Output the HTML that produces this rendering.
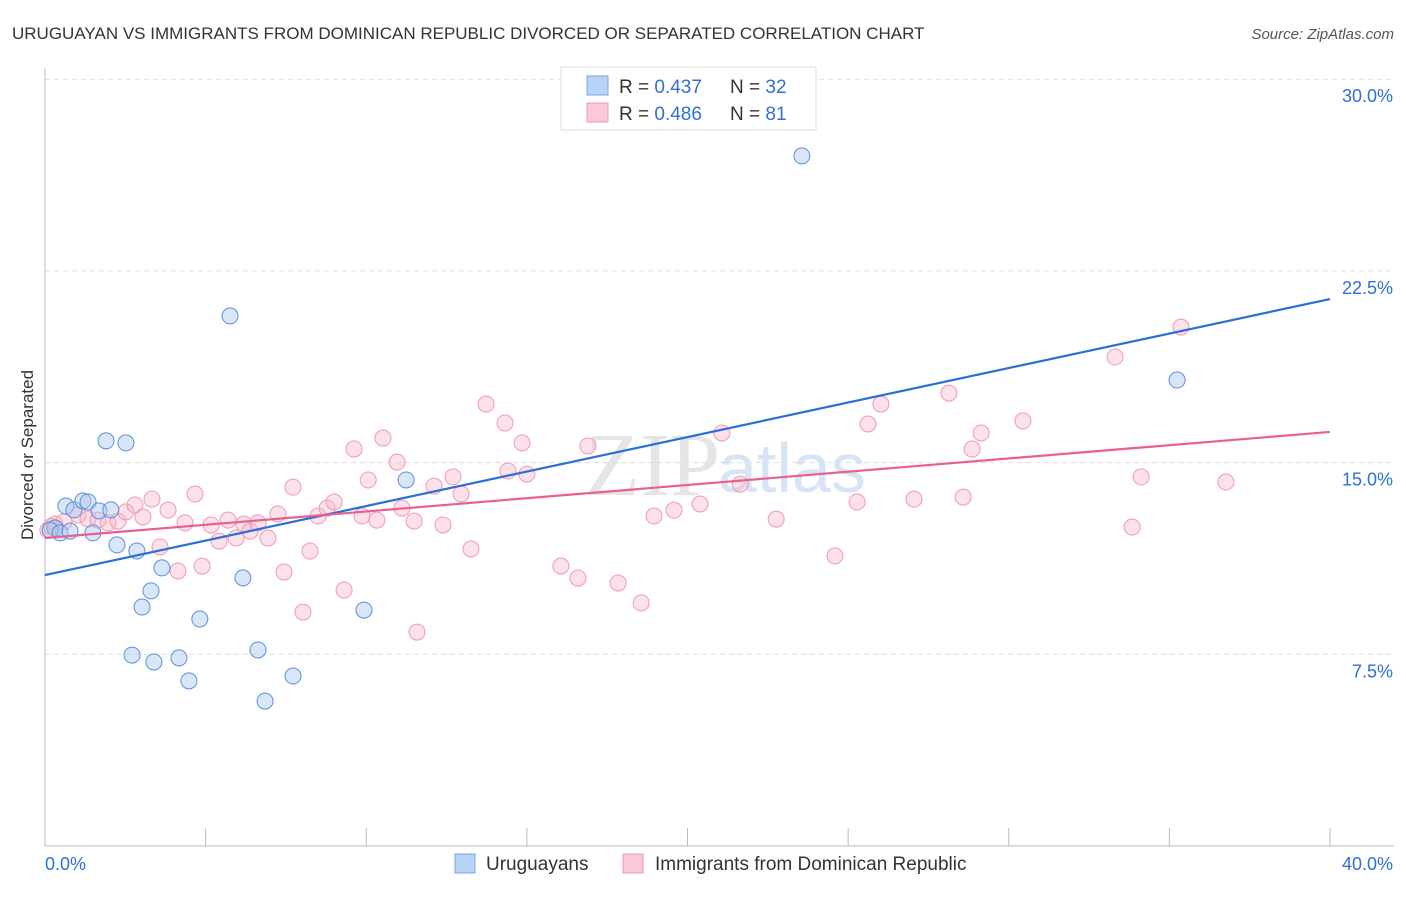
<!DOCTYPE html>
<html><head><meta charset="utf-8"><style>
body{margin:0;background:#fff;font-family:"Liberation Sans",sans-serif;}
</style></head><body>
<svg id="chart" width="1406" height="892" xmlns="http://www.w3.org/2000/svg" style="font-family:'Liberation Sans',sans-serif">
<text x="12" y="39" font-size="17" fill="#333">URUGUAYAN VS IMMIGRANTS FROM DOMINICAN REPUBLIC DIVORCED OR SEPARATED CORRELATION CHART</text>
<text x="1394" y="39" font-size="15" fill="#555" font-style="italic" text-anchor="end">Source: ZipAtlas.com</text>
<text x="720" y="495" font-size="90" fill="#e5e5e5" text-anchor="end" font-family="Liberation Serif">ZIP</text>
<text x="718" y="492" font-size="70" fill="#d6e4f5">atlas</text>
<g id="grid"></g>
<g id="axes"></g>
<g id="marks"></g>
<text transform="translate(33,455) rotate(-90)" font-size="17" fill="#333" text-anchor="middle">Divorced or Separated</text>
<g>
<rect x="561" y="67" width="255" height="63" fill="#fff" stroke="#ddd"/>
<rect x="587" y="76" width="21" height="19" fill="#b8d3f5" stroke="#7aa6e0"/>
<rect x="587" y="103" width="21" height="19" fill="#fbc8d7" stroke="#ee9ab3"/>
<text x="619" y="93" font-size="19" fill="#333">R = <tspan fill="#2f6fd6">0.437</tspan></text>
<text x="730" y="93" font-size="19" fill="#333">N = <tspan fill="#2f6fd6">32</tspan></text>
<text x="619" y="120" font-size="19" fill="#333">R = <tspan fill="#2f6fd6">0.486</tspan></text>
<text x="730" y="120" font-size="19" fill="#333">N = <tspan fill="#2f6fd6"> 81</tspan></text>
</g>
<g>
<rect x="455" y="854" width="20" height="19" fill="#b8d3f5" stroke="#7aa6e0"/>
<text x="486" y="870" font-size="19" fill="#333">Uruguayans</text>
<rect x="623" y="854" width="20" height="19" fill="#fbc8d7" stroke="#ee9ab3"/>
<text x="655" y="870" font-size="19" fill="#333">Immigrants from Dominican Republic</text>
</g>
</svg>
<script>
const blueX=[0.31,0.16,0.47,0.65,0.90,1.18,1.34,1.49,1.68,2.05,1.90,2.52,2.24,2.86,3.64,3.30,3.02,4.82,6.16,2.71,3.39,4.17,4.48,6.63,6.85,7.72,5.76,11.24,9.93,23.56,35.24,0.78];
const blueY=[12.44,12.36,12.25,13.30,13.15,13.50,13.46,12.25,13.11,13.15,15.85,15.77,11.78,11.54,10.88,9.98,9.35,8.88,10.49,7.47,7.20,7.36,6.46,7.67,5.67,6.65,20.74,14.32,9.23,27.0,18.23,12.32];
const pinkX=[0.09,0.31,0.59,1.03,1.34,1.65,1.96,2.27,2.52,2.80,3.05,3.33,3.58,3.83,4.14,4.36,4.67,4.89,5.17,5.42,5.70,5.95,6.19,6.38,6.63,6.94,7.25,7.44,7.72,8.03,8.25,8.50,8.78,9.00,9.31,9.62,9.87,10.06,10.33,10.52,10.96,11.11,11.49,11.58,12.11,12.39,12.70,12.95,13.26,13.73,14.32,14.41,14.85,15.00,16.06,16.59,16.90,17.84,18.56,18.96,19.58,20.39,21.07,21.64,22.76,24.59,25.28,25.62,26.02,27.05,28.14,28.58,28.86,29.14,30.44,33.31,33.84,34.12,35.36,36.76,0.2];
const pinkY=[12.36,12.60,12.68,12.95,12.79,12.75,12.64,12.71,13.07,13.34,12.87,13.57,11.70,13.14,10.76,12.64,13.77,10.95,12.56,11.93,12.75,12.05,12.60,12.32,12.64,12.05,12.99,10.72,14.04,9.15,11.54,12.91,13.22,13.46,10.01,15.53,12.91,14.32,12.75,15.96,15.02,13.22,12.71,8.37,14.08,12.56,14.44,13.77,11.62,17.29,16.55,14.67,15.77,14.55,10.95,10.48,15.65,10.29,9.51,12.91,13.14,13.38,16.16,14.16,12.79,11.35,13.46,16.51,17.29,13.57,17.72,13.65,15.53,16.16,16.63,19.13,12.48,14.44,20.30,14.24,12.5];
const blueLine=[10.60,21.40];
const pinkLine=[12.05,16.20];
const yTicks=[7.5,15.0,22.5,30.0];
const yTickLabels=["7.5%","15.0%","22.5%","30.0%"];
const xTicks=[0,5,10,15,20,25,30,35,40];

const NS="http://www.w3.org/2000/svg";
const X0=45,X1=1330,Y0=846,PPY=191.7/7.5;
const sx=v=>X0+(v/40)*(X1-X0);
const sy=v=>Y0-v*PPY;
function mk(tag,attrs,parent){const e=document.createElementNS(NS,tag);for(const k in attrs)e.setAttribute(k,attrs[k]);parent.appendChild(e);return e;}
const grid=document.getElementById('grid'),axes=document.getElementById('axes'),marks=document.getElementById('marks');
yTicks.forEach((t,i)=>{
 const l=mk('line',{x1:X0,x2:1394,y1:sy(t),y2:sy(t),stroke:'#ddd','stroke-dasharray':'5,4'},grid);
 
 
 const tx=mk('text',{x:1393,y:sy(t)+23,'font-size':18,fill:'#2f6fd6','text-anchor':'end'},axes);
 tx.textContent=yTickLabels[i];
 
 
});
const ya=mk('line',{x1:X0,x2:X0,y1:68,y2:Y0,stroke:'#bbb'},axes);


const xa=mk('line',{x1:X0,x2:1394,y1:Y0,y2:Y0,stroke:'#bbb'},axes);


xTicks.forEach(t=>{
 const l=mk('line',{x1:sx(t),x2:sx(t),y1:828,y2:Y0,stroke:'#bbb'},axes);
 
 
});
const xl0=mk('text',{x:45,y:870,'font-size':18,fill:'#2f6fd6'},axes);xl0.textContent=xTicks[0].toFixed(1)+'%';


const xl1=mk('text',{x:1393,y:870,'font-size':18,fill:'#2f6fd6','text-anchor':'end'},axes);xl1.textContent=xTicks[xTicks.length-1].toFixed(1)+'%';


pinkX.forEach((x,i)=>{
 const c=mk('circle',{cx:sx(x),cy:sy(pinkY[i]),r:8,fill:'rgba(248,180,200,0.4)',stroke:'#ee9ab3','stroke-width':1},marks);
 
 
});
blueX.forEach((x,i)=>{
 const c=mk('circle',{cx:sx(x),cy:sy(blueY[i]),r:8,fill:'rgba(170,200,240,0.45)',stroke:'#5b8fdc','stroke-width':1},marks);
 
 
});
const bl=mk('line',{x1:sx(0),y1:sy(blueLine[0]),x2:sx(40),y2:sy(blueLine[1]),stroke:'#2a6fd8','stroke-width':2.2},marks);


const pl=mk('line',{x1:sx(0),y1:sy(pinkLine[0]),x2:sx(40),y2:sy(pinkLine[1]),stroke:'#e8608e','stroke-width':2.2},marks);


</script>
</body></html>
